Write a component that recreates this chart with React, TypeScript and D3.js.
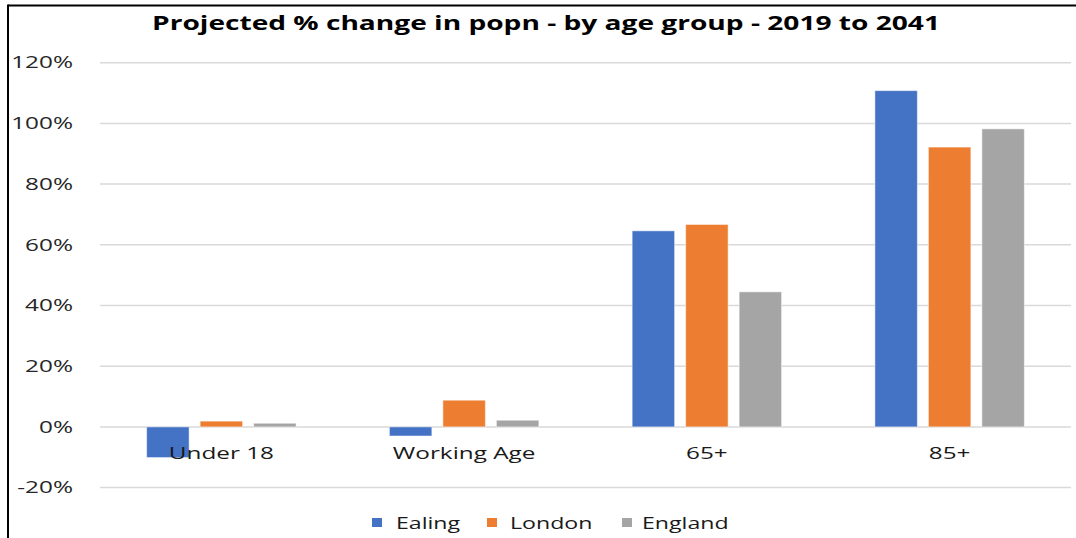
import React from "react";
import * as d3 from "d3";

const categories = ["Under 18", "Working Age", "65+", "85+"];
const seriesNames = ["Ealing", "London", "England"];
const ealing = [-10.1, -3.0, 64.6, 110.8];
const london = [1.9, 8.8, 66.7, 92.2];
const england = [1.2, 2.2, 44.5, 98.2];
const yTicks = [-20, 0, 20, 40, 60, 80, 100, 120];
const colors = ["#4472C4", "#ED7D31", "#A5A5A5"];
const title = "Projected % change in popn - by age group - 2019 to 2041";

const W = 1076;
const H = 538;

export default function App() {
  const seriesValues = [ealing, london, england];
  const left = 100;
  const right = 1071;
  const y = d3.scaleLinear().domain([-20, 120]).range([487.6, 62.7]);
  const x0 = d3.scaleBand<string>().domain(categories).range([left, right]).padding(0);
  const x1 = d3
    .scaleBand<string>()
    .domain(seriesNames)
    .range([0, x0.bandwidth()])
    .paddingInner(0.206)
    .paddingOuter(0.872);
  const font = "'Open Sans', 'DejaVu Sans', sans-serif";
  const legendX = [372, 487, 622];
  const legendTextX = [396, 510, 642];
  return (
    <svg
      width={W}
      height={H}
      style={{ position: "absolute", left: 0, top: 0, background: "#fff" }}
    >
      <rect x={0} y={0} width={W} height={H} fill="#fff" />
      {/* frame */}
      <line x1={8} x2={W} y1={5.5} y2={5.5} stroke="#000" strokeWidth={2} />
      <line x1={8} x2={8} y1={4.5} y2={H} stroke="#000" strokeWidth={2} />
      <text
        x={546}
        y={30}
        textAnchor="middle"
        fontFamily={font}
        fontWeight="bold"
        fontSize={20}
        fill="#000"
        textLength={788}
        lengthAdjust="spacingAndGlyphs"
      >
        {title}
      </text>
      {/* grid */}
      {yTicks.map((t) => (
        <g key={t}>
          <line
            x1={left}
            x2={right}
            y1={y(t)}
            y2={y(t)}
            stroke="#D9D9D9"
            strokeWidth={1.5}
          />
          <text
            transform={`translate(73,${y(t)}) scale(1.52,1)`}
            dy="0.36em"
            textAnchor="end"
            fontFamily={font}
            fontSize={16}
            fill="#262626"
          >
            {t + "%"}
          </text>
        </g>
      ))}
      {/* bars */}
      {seriesNames.map((s, si) =>
        categories.map((c, ci) => {
          const v = seriesValues[si][ci];
          const x = (x0(c) as number) + (x1(s) as number);
          const y0 = y(0);
          const yv = y(v);
          return (
            <rect
              key={s + c}
              x={x}
              y={Math.min(y0, yv)}
              width={x1.bandwidth()}
              height={Math.abs(yv - y0)}
              fill={colors[si]}
              stroke="#fff"
              strokeOpacity={0.5}
              strokeWidth={1}
            />
          );
        })
      )}
      {/* category labels */}
      {categories.map((c) => (
        <text
          key={c}
          transform={`translate(${(x0(c) as number) + x0.bandwidth() / 2},459) scale(1.43,1)`}
          textAnchor="middle"
          fontFamily={font}
          fontSize={17}
          fill="#1a1a1a"
        >
          {c}
        </text>
      ))}
      {/* legend */}
      {seriesNames.map((s, i) => (
        <g key={s}>
          <rect x={legendX[i]} y={518} width={10} height={9} fill={colors[i]} />
          <text
            transform={`translate(${legendTextX[i]},529) scale(1.36,1)`}
            fontFamily={font}
            fontSize={17}
            fill="#1a1a1a"
          >
            {s}
          </text>
        </g>
      ))}
    </svg>
  );
}
